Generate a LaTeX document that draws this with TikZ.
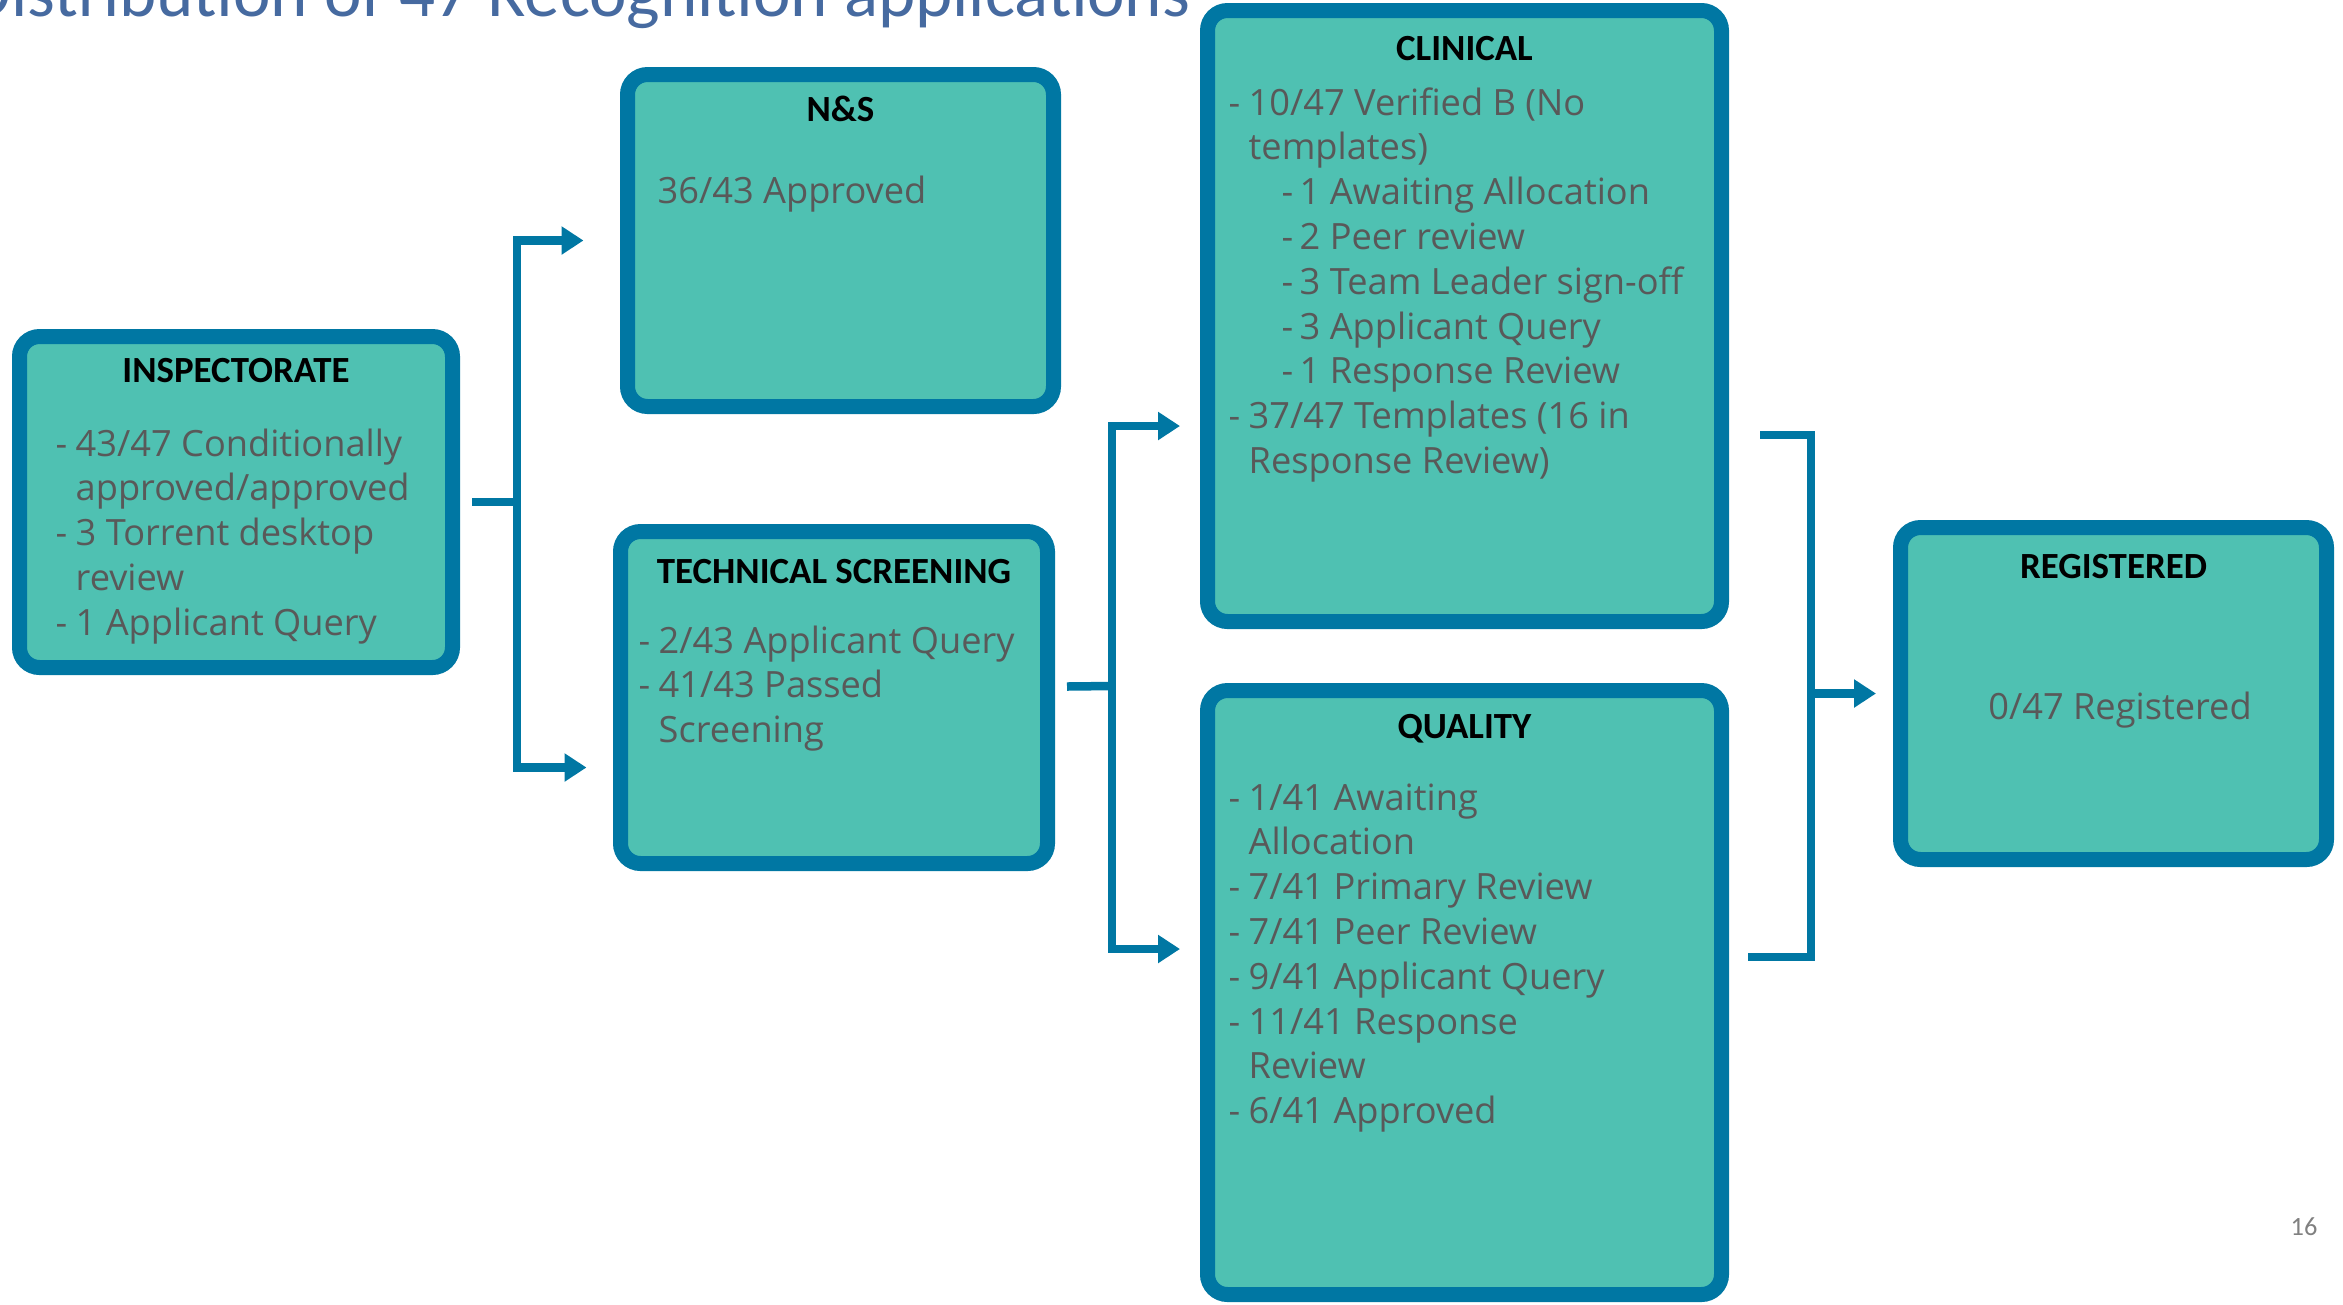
\documentclass[tikz,border=0pt]{standalone}
\usepackage{fontspec}
\usepackage{tikz}
\usetikzlibrary{arrows.meta}
\newfontfamily\headfont{Carlito}
\newfontfamily\bodyfont{Open Sans}
\definecolor{boxblue}{RGB}{0,119,163}
\definecolor{boxfill}{RGB}{79,193,178}
\definecolor{bodygray}{RGB}{89,89,89}
\definecolor{titleblue}{RGB}{70,106,160}
\tikzset{
  box/.style={draw=boxblue, fill=boxfill, line width=1.5mm, rounded corners=2mm, inner sep=0pt},
  head/.style={anchor=base, inner sep=0pt, font=\headfont\bfseries\fontsize{10.5}{12}\selectfont},
  body/.style={anchor=base west, inner sep=0pt, text=bodygray, font=\bodyfont\fontsize{10.3}{12.75}\selectfont},
  link/.style={draw=boxblue, line width=0.85mm},
  >={Triangle[length=2.2mm,width=2.7mm]}
}

\begin{document}
\begin{tikzpicture}
  \useasboundingbox (0,0) rectangle (23.43,-13.04);
  \clip (0,0) rectangle (23.43,-13.04);
  % Title, cut off by the top edge
  \node[anchor=base west, inner sep=0pt, text=titleblue, font=\headfont\fontsize{20.2}{24}\selectfont] (title) at (-0.33,-0.16) {Distribution of 47 Recognition applications};
  % Draw the six boxes
  \foreach \nm/\cx/\cy/\w/\h in {insp/2.36/-5.02/4.33/3.31, ns/8.405/-2.405/4.26/3.32, ts/8.34/-6.975/4.27/3.32,
      clin/14.645/-3.16/5.14/6.11, qual/14.645/-9.925/5.14/6.04, reg/21.135/-6.935/4.26/3.32}
    \node[box, minimum width=\w cm, minimum height=\h cm] (\nm) at (\cx,\cy) {};
  % Headings
  \node[head] (insph) at ([yshift=-5.3mm]insp.north) {INSPECTORATE};
  \node[head] (nsh) at ([yshift=-5.4mm]ns.north) {N\&S};
  \node[head] (tsh) at ([yshift=-5.9mm]ts.north) {TECHNICAL SCREENING};
  \node[head] (clinh) at ([yshift=-5.7mm]clin.north) {CLINICAL};
  \node[head] (qualh) at ([yshift=-5.5mm]qual.north) {QUALITY};
  \node[head] (regh) at ([yshift=-5.8mm]reg.north) {REGISTERED};
  % Box texts
  \node[body] (inspb) at ([xshift=4.3mm,yshift=-12.7mm]insp.north west) {\begin{tabular}[t]{@{}p{2mm}@{}l@{}}
    - & 43/47 Conditionally\\
      & approved/approved\\
    - & 3 Torrent desktop\\
      & review\\
    - & 1 Applicant Query
  \end{tabular}};
  \node[body] (nsb) at ([xshift=3.7mm,yshift=-13.6mm]ns.north west) {36/43 Approved};
  \node[body] (tsb) at ([xshift=2.5mm,yshift=-12.9mm]ts.north west) {\begin{tabular}[t]{@{}p{2mm}@{}l@{}}
    - & 2/43 Applicant Query\\
    - & 41/43 Passed\\
      & Screening
  \end{tabular}};
  \node[body] (clinb) at ([xshift=2.8mm,yshift=-11.2mm]clin.north west) {\begin{tabular}[t]{@{}p{2mm}@{}l@{}}
    - & 10/47 Verified B (No\\
      & templates)\\
      & \hspace*{3.3mm}\makebox[1.8mm][l]{-}1 Awaiting Allocation\\
      & \hspace*{3.3mm}\makebox[1.8mm][l]{-}2 Peer review\\
      & \hspace*{3.3mm}\makebox[1.8mm][l]{-}3 Team Leader sign-off\\
      & \hspace*{3.3mm}\makebox[1.8mm][l]{-}3 Applicant Query\\
      & \hspace*{3.3mm}\makebox[1.8mm][l]{-}1 Response Review\\
    - & 37/47 Templates (16 in\\
      & Response Review)
  \end{tabular}};
  \node[body] (qualb) at ([xshift=2.8mm,yshift=-12.7mm]qual.north west) {\begin{tabular}[t]{@{}p{2mm}@{}l@{}}
    - & 1/41 Awaiting\\
      & Allocation\\
    - & 7/41 Primary Review\\
    - & 7/41 Peer Review\\
    - & 9/41 Applicant Query\\
    - & 11/41 Response\\
      & Review\\
    - & 6/41 Approved
  \end{tabular}};
  \node[body, anchor=base] (regb) at ([xshift=0.65mm,yshift=-19.9mm]reg.north) {0/47 Registered};
  % Fork points of the connectors
  \coordinate (fork1) at (5.17,-5.02);
  \coordinate (fork2) at (11.12,-6.86);
  \coordinate (fork3) at (18.11,-6.935);
  % Connectors
  \draw[link] ([xshift=1.2mm]insp.east) -- (fork1);
  \draw[link,<->] ([xshift=-3.65mm]ns.west) -| (fork1) |- ([xshift=-2.65mm,yshift=-7mm]ts.west);
  \draw[link] ([xshift=1.2mm,yshift=1.1mm]ts.east) -- (fork2);
  \draw[link,<->] ([xshift=-2mm,yshift=-11mm]clin.west) -| (fork2) |- ([xshift=-2mm,yshift=4.35mm]qual.west);
  \draw[link] ([xshift=3.1mm,yshift=-11.9mm]clin.east) -| (fork3) |- ([xshift=1.9mm,yshift=3.55mm]qual.east);
  \draw[link,->] (fork3) -- ([xshift=-1.7mm]reg.west);
  % Page number
  \node[anchor=base, inner sep=0pt, text=gray, font=\headfont\fontsize{7.5}{9}\selectfont] (pgno) at (23.04,-12.35) {16};
\end{tikzpicture}
\end{document}
